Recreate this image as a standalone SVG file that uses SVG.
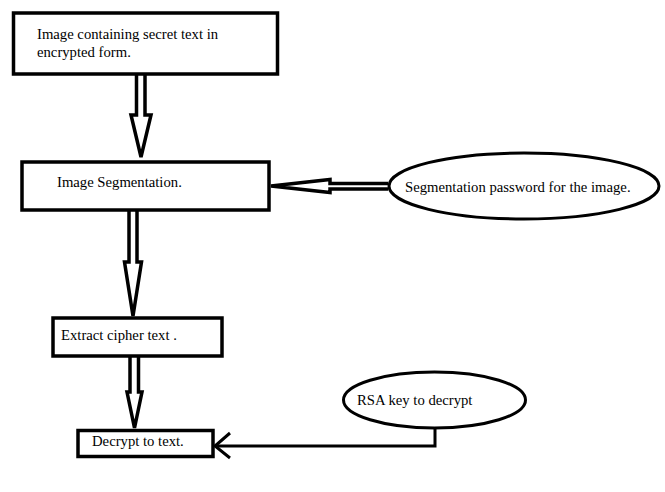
<svg xmlns="http://www.w3.org/2000/svg" width="665" height="492" viewBox="0 0 665 492">
<style>
.box{fill:#fff;stroke:#000;stroke-width:3.5}
.ell{fill:#fff;stroke:#000;stroke-width:3}
.blk{fill:#fff;stroke:#000;stroke-width:3.5;stroke-linejoin:miter}
.line{fill:none;stroke:#000;stroke-width:3}
text{font-family:"Liberation Serif","Times New Roman",serif;font-size:14.7px;fill:#000}
</style>
<rect width="665" height="492" fill="#fff"/>
<g id="connectors">
<path class="blk" d="M136.5 75 V115 H131 L141 157 L151 115 H145 V75"/>
<path class="blk" d="M129 211 V262 H124.5 L133 316 L141.5 262 H137 V211"/>
<path class="blk" d="M130 357 V392 H127 L134.5 428 L142 392 H138.5 V357"/>
<path class="blk" d="M388 183.5 H330 V179.5 L271 186 L330 192.5 V189 H388"/>
<path class="line" d="M435 428 V446 H215"/>
<path class="line" d="M230 433 L215 446 L230 458"/>
</g>
<g id="node-image">
<rect class="box" x="13.5" y="13" width="264" height="61"/>
<text x="37" y="39">Image containing secret text in</text>
<text x="37" y="57">encrypted form.</text>
</g>
<g id="node-segmentation">
<rect class="box" x="22" y="162" width="247" height="48"/>
<text x="57" y="187">Image Segmentation.</text>
</g>
<g id="node-password">
<ellipse class="ell" cx="524" cy="186" rx="135" ry="33"/>
<text x="405" y="192">Segmentation password for the image.</text>
</g>
<g id="node-extract">
<rect class="box" x="53" y="318" width="169" height="38"/>
<text x="61" y="340">Extract cipher text .</text>
</g>
<g id="node-rsa">
<ellipse class="ell" cx="434.5" cy="400" rx="91" ry="28"/>
<text x="357" y="405">RSA key to decrypt</text>
</g>
<g id="node-decrypt">
<rect class="box" x="78" y="430.5" width="135" height="26"/>
<text x="92" y="446">Decrypt to text.</text>
</g>
</svg>
